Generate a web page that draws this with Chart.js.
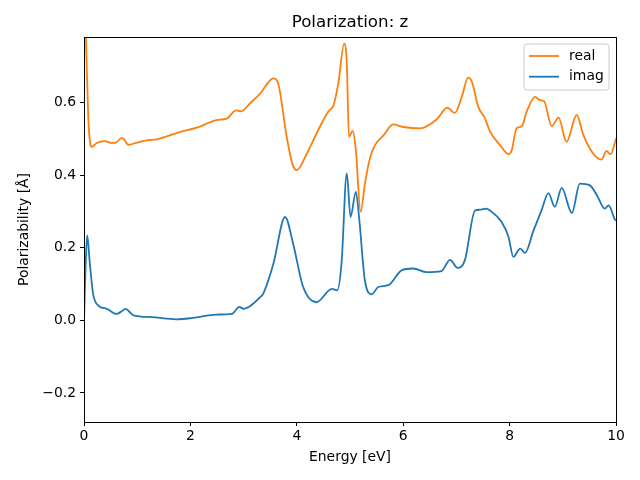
<!DOCTYPE html>
<html>
<head>
<meta charset="utf-8">
<script src="https://cdn.jsdelivr.net/npm/chart.js@4"></script>
<style>
  html, body { margin: 0; padding: 0; background: #fff; }
  #wrap { width: 640px; height: 480px; }
</style>
</head>
<body>
<div id="wrap"><canvas id="mycanvas" width="640" height="480"></canvas></div>
<script>
// values
var realE = [0, 0.04, 0.08, 0.12, 0.145, 0.24, 0.39, 0.52, 0.6, 0.71, 0.76, 0.83, 1.0, 1.18, 1.37, 1.8, 2.12, 2.49, 2.68, 2.86, 2.95, 3.12, 3.31, 3.56, 3.65, 3.81, 3.92, 4.0, 4.19, 4.4, 4.59, 4.69, 4.78, 4.89, 4.94, 4.98, 5.05, 5.11, 5.2, 5.28, 5.38, 5.47, 5.63, 5.81, 6.0, 6.32, 6.63, 6.83, 6.97, 7.1, 7.22, 7.29, 7.41, 7.54, 7.63, 7.82, 7.98, 8.04, 8.13, 8.23, 8.32, 8.48, 8.57, 8.65, 8.79, 8.92, 9.07, 9.26, 9.39, 9.57, 9.73, 9.82, 9.9, 10.0];
var realVal = [0.95, 0.76, 0.56, 0.485, 0.478, 0.489, 0.494, 0.489, 0.49, 0.503, 0.498, 0.484, 0.49, 0.496, 0.499, 0.519, 0.531, 0.552, 0.556, 0.579, 0.576, 0.598, 0.625, 0.667, 0.653, 0.506, 0.43, 0.414, 0.46, 0.524, 0.575, 0.593, 0.653, 0.763, 0.708, 0.506, 0.522, 0.469, 0.299, 0.377, 0.45, 0.483, 0.51, 0.54, 0.533, 0.529, 0.554, 0.586, 0.572, 0.616, 0.669, 0.658, 0.589, 0.556, 0.521, 0.483, 0.458, 0.469, 0.529, 0.535, 0.575, 0.616, 0.607, 0.604, 0.535, 0.559, 0.492, 0.566, 0.51, 0.46, 0.443, 0.467, 0.458, 0.501];

var imagE = [0, 0.03, 0.06, 0.11, 0.17, 0.27, 0.43, 0.61, 0.71, 0.78, 0.93, 1.27, 1.74, 2.05, 2.49, 2.78, 2.92, 3.0, 3.12, 3.31, 3.37, 3.56, 3.78, 3.93, 4.12, 4.37, 4.66, 4.76, 4.84, 4.94, 5.01, 5.11, 5.17, 5.28, 5.41, 5.53, 5.72, 5.97, 6.19, 6.44, 6.72, 6.88, 7.02, 7.16, 7.35, 7.44, 7.56, 7.63, 7.85, 7.98, 8.07, 8.2, 8.29, 8.45, 8.6, 8.73, 8.85, 8.98, 9.17, 9.32, 9.51, 9.64, 9.79, 9.86, 9.98, 10.0];
var imagVal = [0.0, 0.15, 0.234, 0.156, 0.074, 0.041, 0.032, 0.018, 0.025, 0.032, 0.014, 0.009, 0.003, 0.007, 0.016, 0.018, 0.037, 0.032, 0.039, 0.064, 0.074, 0.156, 0.285, 0.212, 0.092, 0.05, 0.087, 0.083, 0.156, 0.405, 0.285, 0.354, 0.285, 0.11, 0.072, 0.092, 0.097, 0.138, 0.143, 0.133, 0.136, 0.167, 0.145, 0.166, 0.303, 0.305, 0.308, 0.303, 0.271, 0.23, 0.175, 0.198, 0.186, 0.248, 0.303, 0.351, 0.313, 0.365, 0.296, 0.377, 0.372, 0.345, 0.308, 0.317, 0.278, 0.275];

var xTicks = [0, 2, 4, 6, 8, 10];
var yTicks = [-0.2, 0, 0.2, 0.4, 0.6];

var FONT = 'DejaVu Sans';

function toPoints(xs, ys) {
	var pts = [];
	for (var i in xs) pts.push({x: xs[i], y: ys[i]});
	return pts;
}

// axes frame, title and boxed legend like matplotlib
var mplDecor = {
	id: 'mplDecor',
	afterDraw: function(chart) {
		var ctx = chart.ctx;
		var a = chart.chartArea;
		ctx.save();
		ctx.strokeStyle = '#000';
		ctx.lineWidth = 1;
		ctx.strokeRect(Math.round(a.left) + 0.5, Math.round(a.top) + 0.5, Math.round(a.right - a.left), Math.round(a.bottom - a.top));

		ctx.fillStyle = '#000';
		ctx.font = '16.7px "' + FONT + '"';
		ctx.textAlign = 'center';
		ctx.textBaseline = 'middle';
		ctx.fillText('Polarization: z', (a.left + a.right) / 2, 23);

		// legend
		var bx = 524, by = 44, bw = 85, bh = 46, r = 3;
		ctx.beginPath();
		ctx.moveTo(bx + r, by);
		ctx.arcTo(bx + bw, by, bx + bw, by + bh, r);
		ctx.arcTo(bx + bw, by + bh, bx, by + bh, r);
		ctx.arcTo(bx, by + bh, bx, by, r);
		ctx.arcTo(bx, by, bx + bw, by, r);
		ctx.closePath();
		ctx.fillStyle = 'rgba(255,255,255,0.8)';
		ctx.fill();
		ctx.strokeStyle = '#cccccc';
		ctx.lineWidth = 1;
		ctx.stroke();

		var ds = chart.data.datasets;
		ctx.font = '13.9px "' + FONT + '"';
		ctx.textAlign = 'left';
		for (var i = 0; i < ds.length; i++) {
			var yy = 56 + i * 20.7;
			ctx.strokeStyle = ds[i].borderColor;
			ctx.lineWidth = 1.8;
			ctx.beginPath();
			ctx.moveTo(529, yy);
			ctx.lineTo(559, yy);
			ctx.stroke();
			ctx.fillStyle = '#000';
			ctx.fillText(ds[i].label, 569, yy);
		}
		ctx.restore();
	}
};

var ctx = document.getElementById('mycanvas');

var chart = new Chart(ctx, {
	type: 'line',
	data: {
		datasets: [
			{
				label: 'real',
				data: toPoints(realE, realVal),
				borderColor: '#ff7f0e',
				borderWidth: 1.8,
				pointRadius: 0,
				cubicInterpolationMode: 'monotone',
				order: 2
			},
			{
				label: 'imag',
				data: toPoints(imagE, imagVal),
				borderColor: '#1f77b4',
				borderWidth: 1.8,
				pointRadius: 0,
				cubicInterpolationMode: 'monotone',
				order: 1
			}
		]
	},
	options: {
		responsive: false,
		animation: false,
		layout: { padding: { top: 37, right: 24, left: 0, bottom: 0 } },
		plugins: {
			legend: { display: false },
			title: { display: false },
			tooltip: { enabled: false }
		},
		scales: {
			x: {
				type: 'linear',
				min: 0,
				max: 10,
				afterBuildTicks: function(scale) {
					scale.ticks = xTicks.map(function(v) { return {value: v}; });
				},
				afterFit: function(scale) { scale.height = 58; },
				grid: { drawOnChartArea: false, drawTicks: true, tickLength: 4, color: '#000' },
				border: { color: '#000' },
				ticks: {
					color: '#000',
					font: { family: FONT, size: 13.9 },
					padding: 2,
					maxRotation: 0,
					callback: function(v) { return v; }
				},
				title: {
					display: true,
					text: 'Energy [eV]',
					color: '#000',
					font: { family: FONT, size: 13.9 },
					padding: { top: 0, bottom: 14 }
				}
			},
			y: {
				type: 'linear',
				min: -0.28,
				max: 0.781,
				afterBuildTicks: function(scale) {
					scale.ticks = yTicks.map(function(v) { return {value: v}; });
				},
				afterFit: function(scale) { scale.width = 84; },
				grid: { drawOnChartArea: false, drawTicks: true, tickLength: 4, color: '#000' },
				border: { color: '#000' },
				ticks: {
					color: '#000',
					font: { family: FONT, size: 13.9 },
					padding: 4,
					callback: function(v) {
						var s = v.toFixed(1);
						return s.replace('-', '\u2212');
					}
				},
				title: {
					display: true,
					text: 'Polarizability [Å]',
					color: '#000',
					font: { family: FONT, size: 13.9 },
					padding: { top: 16, bottom: 0 }
				}
			}
		}
	},
	plugins: [mplDecor]
});
</script>
</body>
</html>
